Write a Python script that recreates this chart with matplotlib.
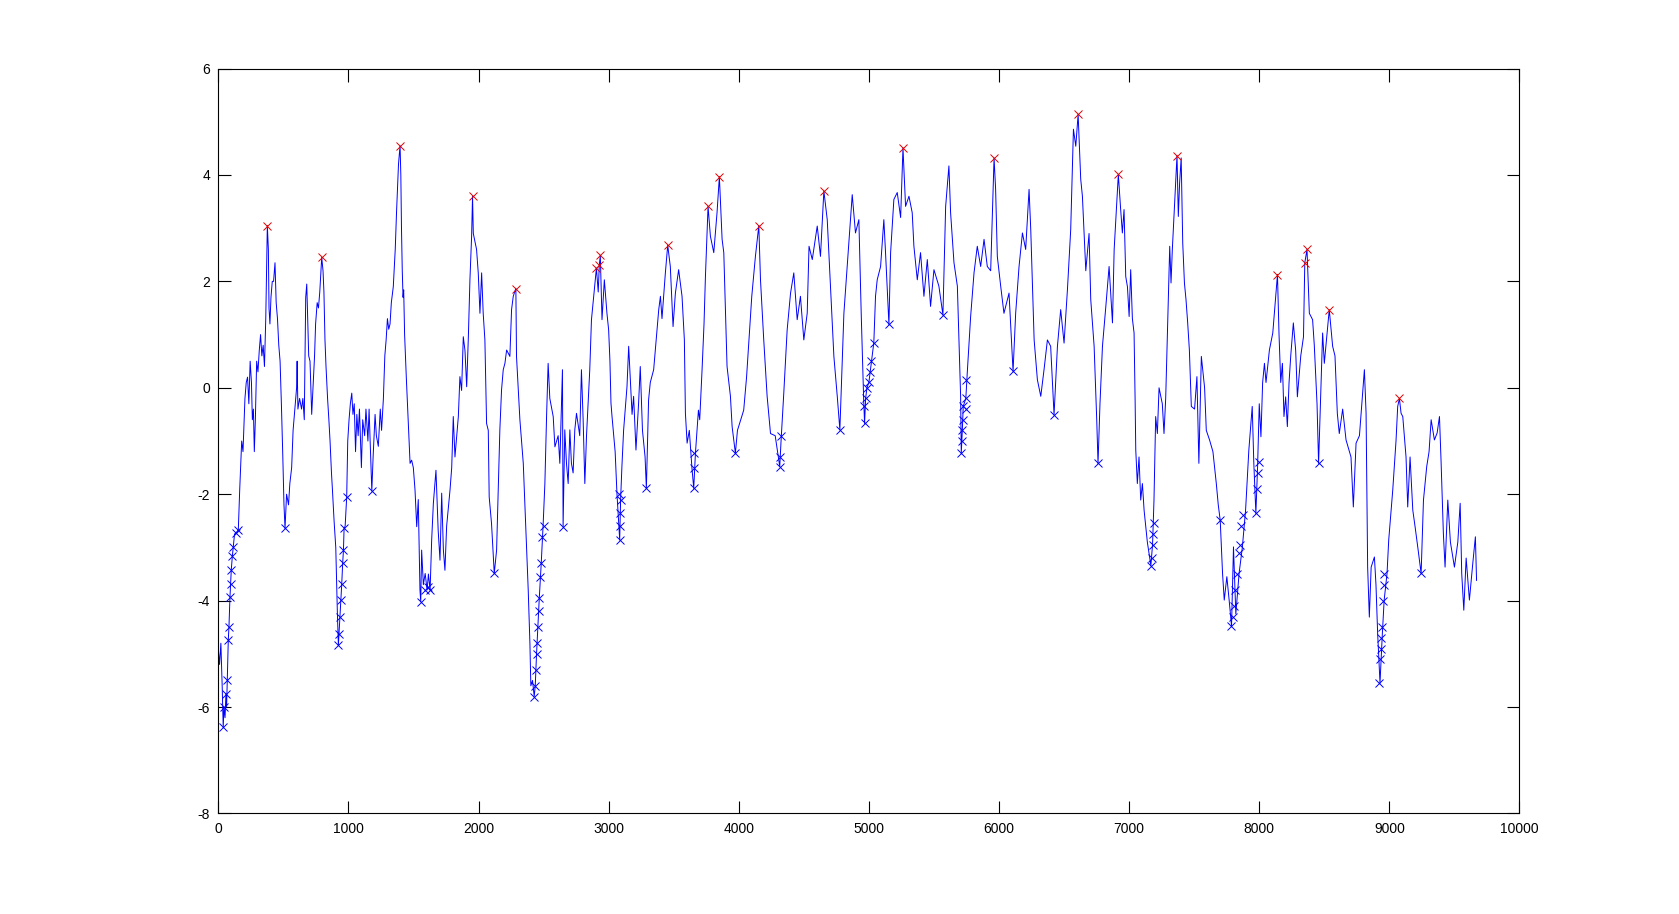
import matplotlib
matplotlib.use("Agg")
import matplotlib.pyplot as plt

# the series in pieces (x index, value)
xa = [0, 10, 20, 30, 38, 44, 52, 59, 64, 69, 77, 82, 90, 95, 100, 108, 115, 125, 136, 145,
      154, 165, 175, 180, 190, 205, 215, 225, 235, 245, 255, 262, 270, 277, 285, 295, 305, 315, 325, 335,
      345, 355, 365, 377, 385, 390, 397, 405, 415, 425, 436, 445, 455, 465, 475, 485, 495, 505, 513, 525,
      540, 550, 564, 575, 585, 595, 602, 606, 612, 625, 640, 650, 661, 668, 672, 680, 688, 695, 705, 718,
      728, 740, 748, 760, 770, 780, 795, 805, 812, 820, 828, 840, 850, 859, 870, 877, 890, 903, 915, 923,
      928, 936, 943, 949, 956, 962, 967, 975, 987, 995, 1005, 1015, 1026, 1035, 1045, 1055, 1065, 1075, 1085, 1100,
      1110, 1125, 1135, 1150, 1159, 1170, 1180, 1190, 1205, 1215, 1230, 1245, 1255, 1269, 1280, 1290, 1300, 1310, 1320, 1330,
      1345, 1360, 1370, 1385, 1397]
ya = [-4.9, -5.2, -4.8, -5.6, -6.38, -6.0, -6.2, -5.75, -6.0, -5.5, -4.74, -4.5, -3.93, -3.68, -3.42, -3.17, -2.99, -2.75, -2.73, -2.7,
      -2.67, -1.9, -1.3, -1.0, -1.2, -0.2, 0.1, 0.2, -0.3, 0.5, 0.1, -0.6, -0.4, -1.2, -0.6, 0.5, 0.3, 0.7, 1.0, 0.6,
      0.8, 0.4, 1.3, 3.05, 2.6, 1.5, 1.2, 1.7, 2.0, 2.0, 2.35, 1.6, 1.3, 0.8, 0.5, -0.3, -1.2, -2.2, -2.64, -2.0,
      -2.2, -1.8, -1.5, -0.8, -0.5, -0.2, 0.0, 0.5, -0.4, -0.2, -0.4, -0.2, -0.6, 0.8, 1.7, 1.95, 1.2, 0.6, 0.5, -0.5,
      0.0, 0.6, 1.2, 1.6, 1.5, 1.8, 2.45, 2.2, 1.8, 0.9, 0.4, -0.2, -0.6, -1.0, -1.6, -1.9, -2.5, -3.0, -4.2, -4.84,
      -4.62, -4.3, -3.99, -3.68, -3.3, -3.05, -2.64, -2.6, -2.05, -1.0, -0.6, -0.3, -0.1, -0.5, -0.3, -1.2, -0.5, -0.9, -0.4, -1.5,
      -0.6, -0.9, -0.4, -1.0, -0.4, -1.2, -1.94, -1.3, -0.5, -0.9, -1.1, -0.4, -0.8, -0.2, 0.6, 0.9, 1.3, 1.1, 1.2, 1.6,
      1.9, 2.6, 3.3, 4.2, 4.55]

xb = [1403, 1408, 1414, 1420, 1425, 1432, 1445, 1461, 1474, 1486, 1499, 1512, 1525, 1537, 1550, 1556, 1563, 1576, 1590, 1605,
      1615, 1628, 1640, 1653, 1673, 1690, 1704, 1717, 1730, 1742, 1755, 1781, 1794, 1806, 1819, 1845, 1857, 1870, 1883, 1896,
      1909, 1922, 1934, 1947, 1954, 1960, 1985, 1998, 2011, 2024, 2036, 2049, 2062, 2075, 2082, 2100, 2121, 2139, 2152, 2164,
      2177, 2190, 2203, 2216, 2241, 2254, 2267, 2287, 2292, 2318, 2344, 2364, 2382, 2395, 2402, 2415, 2428, 2436, 2446, 2456,
      2467, 2482, 2497, 2510, 2523, 2535, 2548, 2574, 2587, 2612, 2625, 2645, 2650, 2663, 2676, 2689, 2702, 2714, 2727, 2740,
      2753, 2778, 2791, 2804, 2817, 2830, 2855, 2868, 2893, 2906, 2920, 2928, 2936, 2949]
yb = [4.0, 3.0, 2.2, 1.7, 1.84, 1.0, 0.2, -0.67, -1.42, -1.36, -1.5, -1.92, -2.61, -2.1, -3.8, -4.02, -3.05, -3.7, -3.49, -3.8,
      -3.5, -3.8, -2.86, -2.17, -1.55, -2.68, -3.24, -1.98, -3.05, -3.43, -2.6, -1.92, -1.5, -0.54, -1.3, -0.54, 0.21, -0.05, 0.96, 0.7,
      0.02, 0.96, 2.03, 2.85, 3.6, 2.9, 2.6, 2.16, 1.4, 2.16, 1.4, 0.9, -0.67, -0.8, -2.05, -2.55, -3.49, -3.05, -1.86, -0.79,
      -0.04, 0.34, 0.46, 0.71, 0.59, 1.47, 1.72, 1.87, 0.59, -0.6, -1.42, -2.68, -3.8, -4.8, -5.6, -5.5, -5.8, -5.6, -5.0, -4.5,
      -3.95, -3.3, -2.55, -1.8, -0.54, 0.46, -0.2, -0.54, -1.11, -0.9, -1.42, 0.34, -2.61, -0.79, -1.42, -1.8, -0.79, -1.42, -1.6, -0.79,
      -0.48, -0.9, 0.34, -0.6, -1.8, -0.9, 0.34, 1.28, 1.91, 2.25, 1.8, 2.3, 2.49, 1.28]

xc = [2967, 2987, 3000, 3010, 3018, 3026, 3050, 3064, 3085, 3092, 3102, 3115, 3141, 3154, 3167, 3180,
      3192, 3210, 3230, 3243, 3260, 3280, 3290, 3307, 3320, 3346, 3385, 3398, 3410, 3436, 3454, 3474, 3495, 3513, 3538, 3564,
      3582, 3590, 3603, 3620, 3640, 3654, 3667, 3690, 3700, 3718, 3733, 3744, 3764, 3782, 3808, 3833, 3851, 3872, 3885, 3910,
      3936, 3949, 3974, 3990, 4038, 4060, 4077, 4100, 4128, 4154, 4167, 4192, 4218, 4244, 4280, 4315, 4325, 4346, 4372, 4398,
      4423, 4449, 4474, 4500, 4526, 4540, 4565, 4603, 4628, 4654, 4680, 4705, 4731, 4757, 4777, 4788, 4808, 4833, 4872, 4897,
      4923, 4941, 4960, 4967, 4975, 4985, 5000, 5010, 5020, 5038, 5051, 5064, 5090, 5115, 5128, 5154, 5167, 5192, 5218, 5244,
      5262, 5282, 5308, 5333, 5346, 5372, 5397, 5423, 5449, 5474, 5500, 5538, 5569, 5590, 5615, 5628, 5654, 5680, 5705, 5710,
      5718, 5725, 5745, 5756, 5782, 5808, 5833, 5859, 5885, 5910, 5936, 5962, 5974, 5987, 6013, 6038, 6077, 6108, 6128, 6154,
      6180, 6205, 6231, 6244, 6270, 6295, 6321, 6346, 6372, 6397, 6423, 6449, 6474, 6500, 6526, 6551, 6572, 6590, 6608, 6628,
      6641, 6667, 6692, 6705, 6731, 6751, 6761, 6776, 6795, 6821]
yc = [2.03, 1.4, 1.09, 0.5, -0.29, -0.54, -1.2, -1.99, -2.86, -2.1, -1.48, -0.8, 0.02, 0.78, 0.15, -0.5,
      -0.16, -1.17, -0.3, 0.4, -0.8, -1.3, -1.89, -0.23, 0.1, 0.34, 1.47, 1.72, 1.3, 2.16, 2.68, 2.28, 1.15, 1.78, 2.22, 1.72,
      0.9, -0.48, -1.04, -0.8, -1.5, -1.89, -1.23, -0.42, -0.6, 0.34, 1.2, 2.1, 3.41, 2.85, 2.54, 3.29, 3.97, 2.79, 2.54, 0.4,
      -0.16, -0.73, -1.23, -0.8, -0.42, 0.2, 0.84, 1.72, 2.47, 3.05, 2.03, 0.9, -0.16, -0.86, -0.9, -1.48, -1.0, -0.1, 1.09, 1.78,
      2.16, 1.28, 1.72, 0.9, 1.4, 2.66, 2.41, 3.04, 2.47, 3.7, 3.16, 1.91, 0.59, -0.16, -0.79, 0.0, 1.4, 2.28, 3.63, 2.91,
      3.16, 1.4, -0.23, -0.67, -0.2, 0.0, 0.1, 0.3, 0.5, 0.85, 1.72, 2.03, 2.28, 3.16, 2.54, 1.19, 2.54, 3.54, 3.67, 3.2,
      4.51, 3.41, 3.6, 3.29, 2.66, 2.03, 2.54, 1.72, 2.41, 1.53, 2.22, 1.91, 1.37, 3.41, 4.17, 3.29, 2.35, 1.91, -0.16, -1.23,
      -0.8, -0.35, -0.2, 0.28, 1.34, 2.16, 2.66, 2.28, 2.79, 2.28, 2.2, 4.32, 3.73, 2.47, 1.91, 1.4, 1.78, 0.31, 1.4, 2.28,
      2.91, 2.6, 3.73, 2.97, 0.9, 0.15, -0.16, 0.34, 0.9, 0.78, -0.51, 0.78, 1.47, 0.84, 1.85, 2.97, 4.86, 4.54, 5.14, 3.92,
      3.6, 2.2, 2.9, 1.66, 0.78, -0.6, -1.42, -0.3, 0.78, 1.53]

xd = [6846, 6872, 6885, 6917, 6935, 6948, 6961, 6974, 6987, 7000, 7012, 7025, 7038, 7046, 7051, 7063, 7076, 7089, 7102, 7115,
      7140, 7167, 7180, 7191, 7204, 7217, 7230, 7255, 7268, 7281, 7301, 7312, 7322, 7332, 7368, 7378, 7388, 7400, 7412, 7425,
      7437, 7450, 7463, 7478, 7503, 7521, 7536, 7555, 7580, 7593, 7618, 7644, 7670, 7685, 7700, 7718, 7731, 7751, 7769, 7787,
      7802, 7820, 7845, 7870, 7895, 7920, 7946, 7958, 7974, 7987, 8000, 8013, 8026, 8040, 8052, 8078, 8104, 8140, 8152, 8165,
      8178, 8190, 8203, 8216, 8229, 8242, 8262, 8280, 8293, 8319, 8340, 8350, 8367, 8385]
yd = [2.28, 1.22, 2.6, 4.01, 3.35, 2.91, 3.35, 2.09, 1.9, 1.34, 2.22, 1.3, 1.03, -0.23, -1.17, -1.8, -1.3, -2.11, -1.8, -2.3,
      -2.9, -3.34, -2.95, -2.11, -0.54, -0.86, 0.0, -0.3, -0.86, -0.2, 1.66, 2.66, 1.97, 2.6, 4.37, 3.22, 3.85, 4.32, 2.72, 1.97,
      1.66, 1.22, 0.71, -0.35, -0.4, 0.21, -1.42, 0.59, 0.0, -0.8, -0.98, -1.2, -1.8, -2.2, -2.49, -3.49, -3.99, -3.55, -4.0, -4.48,
      -2.99, -4.25, -3.49, -3.0, -2.3, -1.17, -0.35, -1.4, -2.36, -1.5, -0.3, -0.92, 0.1, 0.46, 0.1, 0.71, 1.03, 2.13, 1.0, 0.1,
      0.46, -0.54, -0.17, -0.73, 0.1, 0.6, 1.22, 0.7, -0.17, 0.6, 0.96, 2.35, 2.6, 1.4]

xe = [8410, 8423, 8444, 8456, 8470, 8487, 8500, 8513, 8538, 8564, 8582, 8600, 8615, 8641,
      8667, 8705, 8723, 8744, 8770, 8808, 8821, 8833, 8846, 8860, 8885, 8897, 8910, 8928, 8946, 8960, 8982, 8995, 9013, 9026,
      9038, 9051, 9064, 9077, 9090, 9103, 9128, 9141, 9159, 9180, 9197, 9218, 9244, 9262, 9287, 9305, 9321, 9346, 9367, 9385,
      9397, 9415, 9428, 9449, 9469, 9500, 9526, 9544, 9556, 9572, 9590, 9615, 9641, 9661, 9670]
ye = [1.28, 0.8, -0.3, -1.42, -0.3, 1.03, 0.46, 0.8, 1.47, 0.78, 0.6, -0.48, -0.86, -0.4,
      -0.98, -1.3, -2.24, -1.04, -0.9, 0.34, -0.48, -3.37, -4.31, -3.37, -3.18, -3.7, -4.62, -5.55, -4.62, -3.99, -3.49, -2.86, -2.3, -1.92,
      -1.48, -1.0, -0.35, -0.2, -0.48, -0.54, -1.3, -2.24, -1.3, -2.3, -2.6, -2.99, -3.49, -2.11, -1.48, -1.2, -0.6, -0.98, -0.85, -0.54,
      -1.36, -2.74, -3.37, -2.11, -2.9, -3.37, -2.9, -2.17, -3.49, -4.18, -3.2, -3.99, -3.3, -2.8, -3.62]

# local maxima marked in red
peak_x = [377, 795, 1397, 1954, 2288, 2905, 2928, 2936, 3454, 3764, 3851, 4154, 4654,
          5262, 5962, 6608, 6917, 7368, 8140, 8350, 8367, 8538, 9077]
peak_y = [3.05, 2.45, 4.55, 3.6, 1.86, 2.25, 2.3, 2.49, 2.68, 3.41, 3.97, 3.05, 3.7,
          4.51, 4.32, 5.14, 4.01, 4.36, 2.12, 2.35, 2.6, 1.47, -0.2]

# local minima marked in blue
trough_x = [38, 44, 59, 69, 77, 82, 90, 95, 100, 108, 115, 136, 154,
            513, 923, 928, 936, 943, 949, 956, 962, 967, 987,
            1180, 1556, 1590, 1610, 1628, 2121,
            2428, 2436, 2441, 2446, 2451, 2456, 2462, 2467, 2474, 2482, 2490, 2500,
            2650, 3080, 3085, 3087, 3090, 3092, 3290, 3654, 3654, 3656, 3974,
            4315, 4318, 4325, 4777, 4962, 4967, 4975, 4985, 5000, 5010, 5020, 5038,
            5154, 5569, 5710, 5715, 5718, 5720, 5725, 5743, 5745, 5750,
            6108, 6423, 6761, 7167, 7175, 7180, 7185, 7190,
            7700, 7782, 7795, 7805, 7815, 7830, 7843, 7850, 7860, 7872,
            7974, 7980, 7990, 7995, 8456,
            8923, 8928, 8933, 8938, 8943, 8950, 8955, 8960, 9244]
trough_y = [-6.38, -6.0, -5.75, -5.5, -4.74, -4.5, -3.93, -3.68, -3.42, -3.17, -2.99, -2.73, -2.67,
            -2.64, -4.84, -4.62, -4.3, -3.99, -3.68, -3.3, -3.05, -2.64, -2.05,
            -1.94, -4.02, -3.8, -3.75, -3.8, -3.49,
            -5.82, -5.6, -5.3, -5.0, -4.8, -4.5, -4.2, -3.95, -3.55, -3.3, -2.8, -2.6,
            -2.61, -1.99, -2.86, -2.6, -2.35, -2.1, -1.89, -1.23, -1.5, -1.89, -1.23,
            -1.48, -1.3, -0.9, -0.79, -0.35, -0.67, -0.2, 0.0, 0.1, 0.3, 0.5, 0.85,
            1.19, 1.37, -1.23, -1.0, -0.8, -0.6, -0.35, -0.4, -0.2, 0.15,
            0.31, -0.51, -1.42, -3.34, -3.2, -2.95, -2.75, -2.55,
            -2.49, -4.48, -4.3, -4.1, -3.8, -3.5, -3.1, -2.95, -2.6, -2.4,
            -2.36, -1.9, -1.6, -1.4, -1.42,
            -5.55, -5.1, -4.9, -4.7, -4.5, -4.0, -3.7, -3.5, -3.49]

x_ticks = list(range(0, 10001, 1000))
y_ticks = list(range(-8, 7, 2))

series_x = xa + xb + xc + xd + xe
series_y = ya + yb + yc + yd + ye

plt.rcParams['font.family'] = ['Liberation Sans', 'DejaVu Sans']
plt.rcParams['axes.unicode_minus'] = False

fig = plt.figure(figsize=(16.79, 9.14), dpi=100)
ax = fig.add_axes([0.13, 0.11, 0.775, 0.815])

ax.plot(series_x, series_y, color='#0000ff', linewidth=0.7)
ax.plot(trough_x, trough_y, linestyle='none', marker='x', color='#0000ff',
        markersize=6, markeredgewidth=0.7)
ax.plot(peak_x, peak_y, linestyle='none', marker='x', color='#e00000',
        markersize=6, markeredgewidth=0.7)

ax.set_xlim(0, 10000)
ax.set_ylim(-8, 6)
ax.set_xticks(x_ticks)
ax.set_yticks(y_ticks)
ax.tick_params(direction='in', length=9, width=0.8, top=True, right=True,
               labelsize=10, pad=6)
for s in ax.spines.values():
    s.set_linewidth(0.8)

fig.savefig('out.png', dpi=100, facecolor='white')
